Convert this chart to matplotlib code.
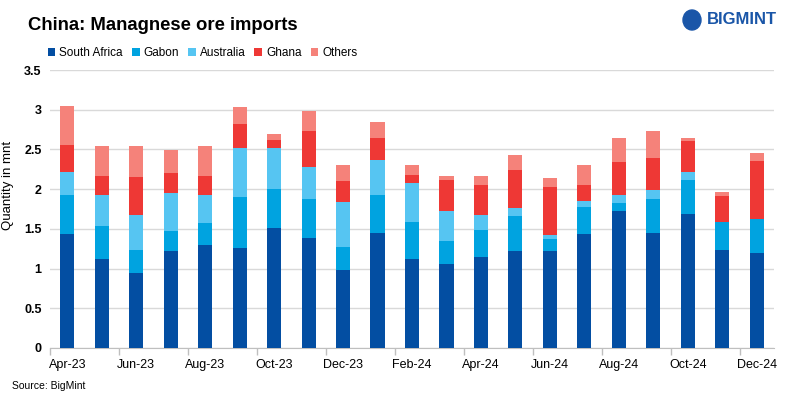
import numpy as np
import matplotlib
matplotlib.use("Agg")
import matplotlib.pyplot as plt
from matplotlib.patches import Ellipse

plt.rcParams['font.family'] = ['Liberation Sans', 'DejaVu Sans']

# Data (mnt)
months = ['Apr-23', 'May-23', 'Jun-23', 'Jul-23', 'Aug-23', 'Sep-23', 'Oct-23',
          'Nov-23', 'Dec-23', 'Jan-24', 'Feb-24', 'Mar-24', 'Apr-24', 'May-24',
          'Jun-24', 'Jul-24', 'Aug-24', 'Sep-24', 'Oct-24', 'Nov-24', 'Dec-24']
south_africa = [1.43, 1.12, 0.95, 1.22, 1.30, 1.26, 1.51, 1.38, 0.98, 1.45, 1.12,
                1.06, 1.15, 1.22, 1.22, 1.43, 1.73, 1.45, 1.69, 1.24, 1.19]
gabon = [0.50, 0.42, 0.29, 0.25, 0.28, 0.64, 0.49, 0.50, 0.29, 0.47, 0.47,
         0.29, 0.33, 0.44, 0.15, 0.34, 0.10, 0.42, 0.42, 0.35, 0.44]
australia = [0.29, 0.39, 0.44, 0.48, 0.34, 0.62, 0.52, 0.40, 0.57, 0.45, 0.49,
             0.37, 0.20, 0.10, 0.05, 0.08, 0.09, 0.12, 0.10, 0.00, 0.00]
ghana = [0.33, 0.23, 0.47, 0.25, 0.25, 0.30, 0.10, 0.45, 0.26, 0.28, 0.10,
         0.39, 0.37, 0.48, 0.61, 0.20, 0.42, 0.40, 0.40, 0.32, 0.72]
others = [0.50, 0.38, 0.39, 0.29, 0.37, 0.21, 0.08, 0.25, 0.20, 0.19, 0.13,
          0.05, 0.11, 0.19, 0.11, 0.25, 0.30, 0.34, 0.03, 0.06, 0.10]

series = [('South Africa', south_africa, '#034ea2'),
          ('Gabon', gabon, '#00a3e0'),
          ('Australia', australia, '#56c5f2'),
          ('Ghana', ghana, '#ee3835'),
          ('Others', others, '#f5827a')]

fig = plt.figure(figsize=(7.88, 3.99), dpi=100)
ax = fig.add_axes([50 / 788, 51 / 399, 724 / 788, 278 / 399])

x = np.arange(len(months))
bottom = np.zeros(len(months))
for name, vals, col in series:
    ax.bar(x, vals, 0.41, bottom=bottom, color=col, label=name, zorder=3)
    bottom += np.array(vals)

ax.set_xlim(-0.5, len(months) - 0.5)
ax.set_ylim(0, 3.5)
ax.set_yticks(np.arange(0, 3.51, 0.5))
ax.set_yticklabels(['0', '0.5', '1', '1.5', '2', '2.5', '3', '3.5'],
                   fontweight='bold', fontsize=9)
ax.grid(axis='y', color='#d9d9d9', linewidth=1, zorder=0)

ax.set_xticks(x[::2])
ax.set_xticklabels(months[::2], fontsize=9)
ax.set_xticks(np.arange(-0.5, len(months) - 1, 2), minor=True)
ax.tick_params(axis='x', which='major', length=0, pad=8)
ax.tick_params(axis='x', which='minor', length=5, color='#bfbfbf', width=1)
ax.tick_params(axis='y', length=0, pad=6)

for s in ['top', 'right', 'left']:
    ax.spines[s].set_visible(False)
ax.spines['bottom'].set_color('#bfbfbf')

ax.set_ylabel('Quantity in mnt', fontsize=9.5)
ax.yaxis.set_label_coords(-36 / 724, 0.585)

fig.text(28 / 788, 1 - 26 / 399, 'China: Managnese ore imports', fontsize=13.3,
         fontweight='bold', va='center', ha='left')
ax.legend(loc='upper left', bbox_to_anchor=(-7 / 724, 1 + 28 / 278), ncol=5,
          frameon=False, fontsize=8.5, handlelength=0.65, handleheight=0.65,
          handletextpad=0.34, columnspacing=0.76, borderaxespad=0)
fig.text(12 / 788, 1 - 386 / 399, 'Source: BigMint', fontsize=7.5, va='center')

# logo
fig.patches.append(Ellipse((692 / 788, 1 - 20 / 399), 18 / 788, 20 / 399,
                           transform=fig.transFigure, color='#1a56a8'))
fig.text(707 / 788, 1 - 20 / 399, 'BIGMINT', fontsize=12, fontweight='bold',
         color='#1a56a8', va='center')

fig.savefig('out.png', dpi=100)
